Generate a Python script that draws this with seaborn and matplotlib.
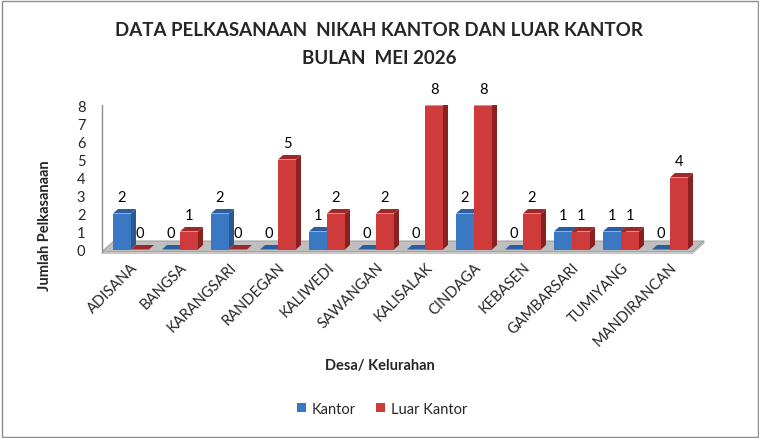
import matplotlib
matplotlib.use("Agg")
import matplotlib.pyplot as plt
from matplotlib.patches import Polygon, Rectangle
import seaborn as sns
import pandas as pd

desa = ["ADISANA", "BANGSA", "KARANGSARI", "RANDEGAN", "KALIWEDI", "SAWANGAN",
        "KALISALAK", "CINDAGA", "KEBASEN", "GAMBARSARI", "TUMIYANG", "MANDIRANCAN"]
kantor = [2, 0, 2, 0, 1, 0, 0, 2, 0, 1, 1, 0]
luar_kantor = [0, 1, 0, 5, 2, 2, 8, 8, 2, 1, 1, 4]
series = ["Kantor", "Luar Kantor"]
yticks = [0, 1, 2, 3, 4, 5, 6, 7, 8]

df = pd.DataFrame({
    "Desa": desa * 2,
    "Jumlah": kantor + luar_kantor,
    "Jenis": [series[0]] * len(desa) + [series[1]] * len(desa),
})

sns.set_theme(style="white")
FONT = ["Lato", "DejaVu Sans"]
plt.rcParams["font.family"] = FONT

front = {"Kantor": "#3B78C4", "Luar Kantor": "#CF3A3A"}
side = {"Kantor": "#2A5992", "Luar Kantor": "#8A2121"}
top = {"Kantor": "#2C5E9F", "Luar Kantor": "#9E2828"}

W, H = 759, 439
fig = plt.figure(figsize=(W / 100, H / 100), dpi=100)
y0px = 250.5
ppu = 18.0
ylo, yhi = -0.25, 8.05
xppu = 49.0
x0px = 131.0
xlo = (102 - x0px) / xppu
xhi = (705 - x0px) / xppu
ax_bottom = y0px - ylo * ppu
ax_top = y0px - yhi * ppu
ax = fig.add_axes([102 / W, 1 - ax_bottom / H, (705 - 102) / W, (ax_bottom - ax_top) / H])

sns.barplot(data=df, x="Desa", y="Jumlah", hue="Jenis", hue_order=series,
            palette=front, saturation=1, width=0.735, ax=ax, legend=True,
            edgecolor="none", linewidth=0)
ax.set_xlim(xlo, xhi)
ax.set_ylim(ylo, yhi)

# floor
fdx, fdy = 12 / xppu, 0.47 + 0.12
ffront = -0.12
fr = (692 - x0px) / xppu
fl = Polygon([(xlo, ffront), (fr, ffront), (fr + fdx, ffront + fdy), (xlo + fdx, ffront + fdy)],
             closed=True, facecolor="#BFBFBF", edgecolor="#A0A0A0", lw=0.8, zorder=0.5)
ax.add_patch(fl)
strip = Polygon([(xlo, ffront), (fr, ffront), (fr + fdx, ffront + fdy), (fr + fdx, ffront + fdy - 0.12),
                 (fr, ffront - 0.12), (xlo, ffront - 0.12)],
                closed=True, facecolor="#DCDCDC", edgecolor="#B0B0B0", lw=0.6, zorder=0.4)
ax.add_patch(strip)

# 3D faces
bdx, bdy = 5 / xppu, 4.5 / ppu
bars = []
for cont, name in zip(ax.containers, series):
    for p in cont.patches:
        bars.append((p.get_x(), p, name))
bars.sort(key=lambda t: t[0])
for i, (x, p, name) in enumerate(bars):
    z = 2 + i * 0.1
    w = p.get_width()
    h = p.get_height()
    p.set_zorder(z)
    ax.add_patch(Polygon([(x + w, 0), (x + w + bdx, bdy), (x + w + bdx, h + bdy), (x + w, h)],
                         closed=True, facecolor=side[name], edgecolor="none", zorder=z + 0.03))
    ax.add_patch(Polygon([(x, h), (x + bdx, h + bdy), (x + w + bdx, h + bdy), (x + w, h)],
                         closed=True, facecolor=top[name], edgecolor="none", zorder=z + 0.05))

for cont in ax.containers:
    ax.bar_label(cont, labels=[f"{int(v)}" for v in cont.datavalues], padding=7,
                 fontsize=10.5, color="black", zorder=10)

for s in ["top", "right", "bottom"]:
    ax.spines[s].set_visible(False)
ax.spines["left"].set_color("#8C8C8C")
ax.spines["left"].set_linewidth(1)
ax.spines["left"].set_bounds(ffront, yhi)
ax.set_yticks(yticks)
ax.set_yticklabels([str(t) for t in yticks], fontsize=10.5)
ax.tick_params(axis="y", length=0, pad=12)
ax.tick_params(axis="x", length=0, pad=4)
ax.set_xticks(range(len(desa)))
ax.set_xticklabels(desa, rotation=45, ha="right", rotation_mode="anchor", fontsize=10.5)
ax.set_xlabel("")
ax.set_ylabel("")
ax.patch.set_alpha(0)

leg = ax.get_legend()
handles, labels = ax.get_legend_handles_labels()
if leg is not None:
    leg.remove()
fig.legend(handles, labels, loc="center", bbox_to_anchor=(382 / W, 1 - 410 / H),
           ncol=2, frameon=False, fontsize=10.5, handlelength=0.6, handleheight=0.6,
           handletextpad=0.4, columnspacing=1.4)

fig.text(379 / W, 1 - 30 / H, "DATA PELKASANAAN  NIKAH KANTOR DAN LUAR KANTOR",
         ha="center", va="center", fontsize=13.5, fontweight="bold")
fig.text(379 / W, 1 - 58 / H, "BULAN  MEI 2026", ha="center", va="center",
         fontsize=13.5, fontweight="bold")
fig.text(45 / W, 1 - 226 / H, "Jumlah Pelkasanaan", ha="center", va="center",
         rotation=90, fontsize=10.5, fontweight="bold")
fig.text(380 / W, 1 - 366 / H, "Desa/ Kelurahan", ha="center", va="center",
         fontsize=10.5, fontweight="bold")

fig.add_artist(Rectangle((1.5 / W, 1.5 / H), (W - 3) / W, (H - 3) / H, transform=fig.transFigure,
                         fill=False, edgecolor="#8C8C8C", linewidth=1))

fig.savefig("out.png", dpi=100)
